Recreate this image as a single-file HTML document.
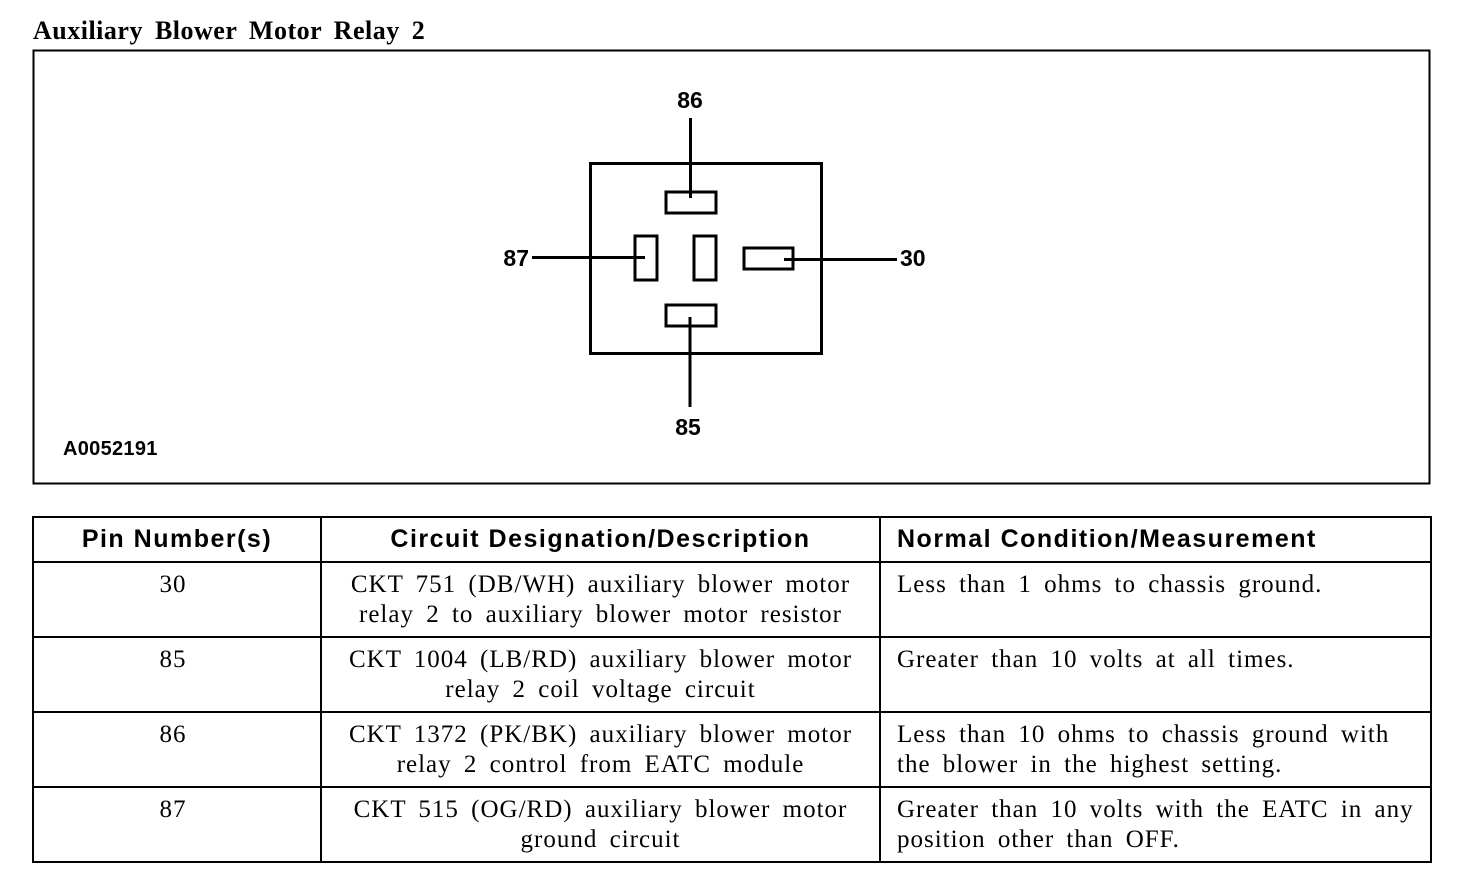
<!DOCTYPE html>
<html><head><style>
body{margin:0;width:1472px;height:892px;background:#fff;position:relative;overflow:hidden;font-family:"Liberation Serif",serif;color:#000}
.t{position:absolute}
.title{left:33px;top:16px;font-weight:bold;font-size:26px;word-spacing:5px;letter-spacing:0.5px}
.c{position:absolute;font-size:25px;line-height:30px;letter-spacing:1px;word-spacing:5px;white-space:nowrap}
.h{position:absolute;font-family:"Liberation Sans",sans-serif;font-weight:bold;font-size:25px;line-height:45px;letter-spacing:1.5px}
</style></head><body>
<div class="t title">Auxiliary Blower Motor Relay 2</div>
<svg class="t" style="left:0;top:0" width="1472" height="892">
<rect x="33.5" y="50.5" width="1396" height="433" fill="none" stroke="#000" stroke-width="2"/>
<g fill="none" stroke="#000" stroke-width="3">
<rect x="590.5" y="163.5" width="231" height="190"/>
<rect x="666" y="192" width="50" height="21"/>
<rect x="635" y="236" width="22" height="44"/>
<rect x="694" y="236" width="22" height="44"/>
<rect x="744" y="248" width="49" height="21"/>
<rect x="666" y="305" width="50" height="21"/>
<line x1="690.5" y1="118" x2="690.5" y2="198"/>
<line x1="690" y1="317" x2="690" y2="407"/>
<line x1="532" y1="257.5" x2="645" y2="257.5"/>
<line x1="784" y1="259.5" x2="897" y2="259.5"/>
</g>
<g font-family="Liberation Sans,sans-serif" font-weight="bold" font-size="23">
<text x="690" y="108" text-anchor="middle">86</text>
<text x="688" y="435" text-anchor="middle">85</text>
<text x="529" y="266" text-anchor="end">87</text>
<text x="900" y="266">30</text>
<text x="63" y="455" font-size="20" letter-spacing="0.3">A0052191</text>
</g>
<g stroke="#000" stroke-width="2" fill="none">
<rect x="33" y="517" width="1398" height="345"/>
<line x1="321" y1="517" x2="321" y2="862"/>
<line x1="880" y1="517" x2="880" y2="862"/>
<line x1="33" y1="562" x2="1431" y2="562"/>
<line x1="33" y1="637" x2="1431" y2="637"/>
<line x1="33" y1="712" x2="1431" y2="712"/>
<line x1="33" y1="787" x2="1431" y2="787"/>
</g>
</svg>
<div class="h" style="left:33px;top:517px;width:288px;text-align:center">Pin Number(s)</div>
<div class="h" style="left:321px;top:517px;width:559px;text-align:center">Circuit Designation/Description</div>
<div class="h" style="left:897px;top:517px">Normal Condition/Measurement</div>

<div class="c" style="left:33px;top:570px;width:280px;text-align:center">30</div>
<div class="c" style="left:321px;top:570px;width:559px;text-align:center">CKT 751 (DB/WH) auxiliary blower motor<br>relay 2 to auxiliary blower motor resistor</div>
<div class="c" style="left:897px;top:570px">Less than 1 ohms to chassis ground.</div>

<div class="c" style="left:33px;top:645px;width:280px;text-align:center">85</div>
<div class="c" style="left:321px;top:645px;width:559px;text-align:center">CKT 1004 (LB/RD) auxiliary blower motor<br>relay 2 coil voltage circuit</div>
<div class="c" style="left:897px;top:645px">Greater than 10 volts at all times.</div>

<div class="c" style="left:33px;top:720px;width:280px;text-align:center">86</div>
<div class="c" style="left:321px;top:720px;width:559px;text-align:center">CKT 1372 (PK/BK) auxiliary blower motor<br>relay 2 control from EATC module</div>
<div class="c" style="left:897px;top:720px">Less than 10 ohms to chassis ground with<br>the blower in the highest setting.</div>

<div class="c" style="left:33px;top:795px;width:280px;text-align:center">87</div>
<div class="c" style="left:321px;top:795px;width:559px;text-align:center">CKT 515 (OG/RD) auxiliary blower motor<br>ground circuit</div>
<div class="c" style="left:897px;top:795px">Greater than 10 volts with the EATC in any<br>position other than OFF.</div>
</body></html>
